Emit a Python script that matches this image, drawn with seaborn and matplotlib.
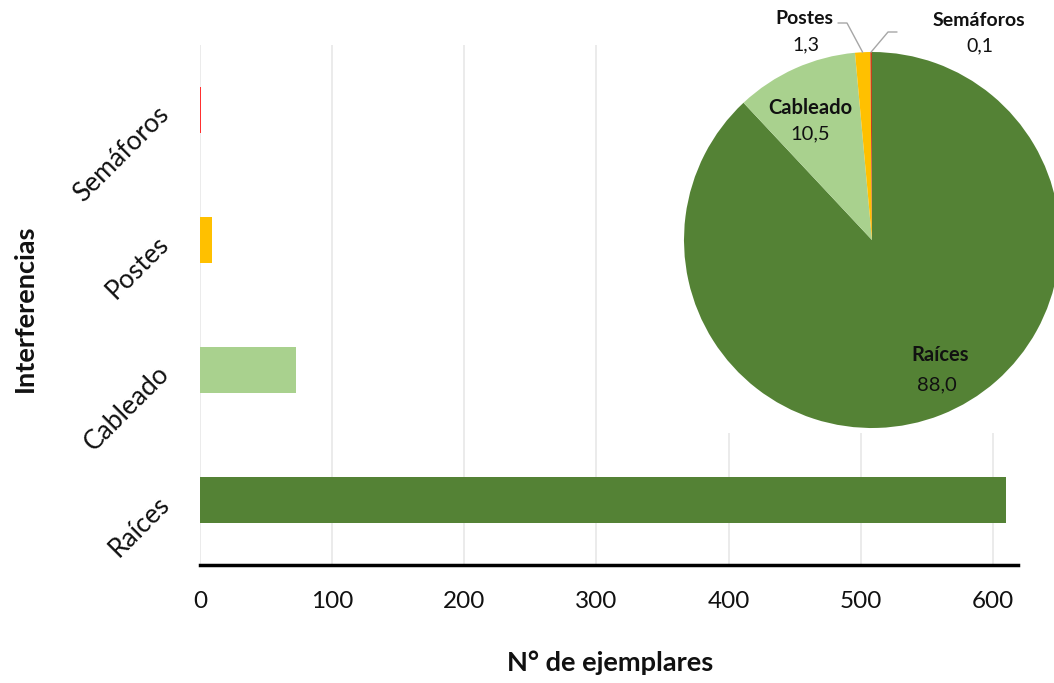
import matplotlib
matplotlib.use("Agg")
import matplotlib.pyplot as plt
import seaborn as sns
import numpy as np
import pandas as pd

# Interference counts recorded per category
categorias = ["Semáforos", "Postes", "Cableado", "Raíces"]
ejemplares = [1, 9, 73, 610]
colores_barras = ["#FF3030", "#FFC000", "#A9D18E", "#548235"]
colores_pastel = ["#C8401A", "#FFC000", "#A9D18E", "#548235"]
x_ticks = [0, 100, 200, 300, 400, 500, 600]

sns.set_theme(style="white")
plt.rcParams["font.family"] = ["Lato", "DejaVu Sans"]

W, H = 1054, 683
fig = plt.figure(figsize=(W / 100, H / 100), dpi=100)
fig.patch.set_facecolor("white")

# ---- horizontal bar chart ----
ax = fig.add_axes([200 / W, 118 / H, 818 / W, 520 / H])
df = pd.DataFrame({"categoria": categorias, "n": ejemplares})
sns.barplot(data=df, x="n", y="categoria", hue="categoria", order=categorias,
            hue_order=categorias, palette=colores_barras, width=0.354,
            legend=False, ax=ax, linewidth=0, saturation=1)
ax.set_xlim(0, 619)
ax.set_ylim(3.5, -0.5)
ax.set_xticks(x_ticks)
ax.set_xticklabels([str(t) for t in x_ticks], fontsize=17.5, color="#111111")
ax.tick_params(axis="x", length=0, pad=19)
ax.tick_params(axis="y", length=0, pad=25)
for lbl in ax.get_yticklabels():
    lbl.set_rotation(45)
    lbl.set_ha("right")
    lbl.set_va("center")
    lbl.set_rotation_mode("anchor")
    lbl.set_fontsize(19)
    lbl.set_color("#111111")
ax.grid(axis="x", color="#E8E8E8", linewidth=1.2)
ax.set_axisbelow(True)
for s in ["top", "right", "left"]:
    ax.spines[s].set_visible(False)
ax.spines["bottom"].set_color("black")
ax.spines["bottom"].set_linewidth(2.5)

ax.set_xlabel("N° de ejemplares", fontsize=19.5, fontweight="bold", color="#111111")
ax.xaxis.set_label_coords(0.501, -0.188)
ax.xaxis.label.set_va("center")
ax.set_ylabel("Interferencias", fontsize=19.5, fontweight="bold", color="#111111")
ax.yaxis.set_label_coords(-0.214, 0.494)
ax.yaxis.label.set_va("center")

# ---- pie inset with percentages ----
pax = fig.add_axes([660 / W, 250 / H, 394 / W, 433 / H])
pax.set_facecolor("white")
pie_order = ["Raíces", "Cableado", "Postes", "Semáforos"]
idx = [categorias.index(c) for c in pie_order]
vals = np.array([ejemplares[i] for i in idx], dtype=float)
cols = [colores_pastel[i] for i in idx]
cx, cy, r = 872, 443, 188
wedges, _ = pax.pie(vals, colors=cols, startangle=90, counterclock=False,
                    center=(cx, cy), radius=r, frame=True,
                    wedgeprops=dict(linewidth=0))
pax.set_xlim(660, 1054)
pax.set_ylim(250, 683)
pax.set_aspect("equal", adjustable="box")
pax.set_xticks([])
pax.set_yticks([])
for s in pax.spines.values():
    s.set_visible(False)

pct = vals / vals.sum() * 100
fmt = lambda v: f"{v:.1f}".replace(".", ",")

def mid_point(i, rad):
    w = wedges[i]
    a = np.deg2rad((w.theta1 + w.theta2) / 2)
    return cx + rad * np.cos(a), cy + rad * np.sin(a)

txt_kw = dict(ha="center", va="center", color="#111111")
# labels inside the large slices
pax.text(940, 328, pie_order[0], fontsize=14.5, fontweight="bold", **txt_kw)
pax.text(937, 298, fmt(pct[0]), fontsize=14.5, **txt_kw)
pax.text(810, 575, pie_order[1], fontsize=14.5, fontweight="bold", **txt_kw)
pax.text(810, 549, fmt(pct[1]), fontsize=14.5, **txt_kw)

# labels outside the thin slices, with leader lines
px, py = mid_point(2, r)
pax.plot([px, 847, 838], [py, 660, 660], color="#A6A6A6", lw=1, clip_on=False)
pax.text(804, 665, pie_order[2], fontsize=14, fontweight="bold", **txt_kw)
pax.text(806, 638, fmt(pct[2]), fontsize=14, **txt_kw)

sx, sy = mid_point(3, r)
pax.plot([sx, 888, 897], [sy, 651, 651], color="#A6A6A6", lw=1, clip_on=False)
pax.text(979, 662, pie_order[3], fontsize=14, fontweight="bold", **txt_kw)
pax.text(980, 637, fmt(pct[3]), fontsize=14, **txt_kw)

fig.savefig("out.png", dpi=100, facecolor="white")
